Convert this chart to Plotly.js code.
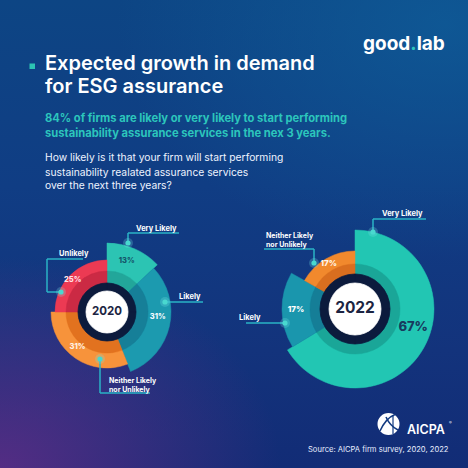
<!DOCTYPE html>
<html>
<head>
<meta charset="utf-8">
<script src="https://cdn.plot.ly/plotly-3.0.1.min.js"></script>
<style>
html,body{margin:0;padding:0;background:#0f3a80;}
#wrap{position:relative;width:468px;height:468px;overflow:hidden;
background:
 radial-gradient(ellipse 60% 45% at 0% 100%, rgba(100,45,135,0.8) 0%, rgba(100,45,135,0) 100%),
 radial-gradient(ellipse 70% 50% at 95% 5%, rgba(15,95,155,0.7) 0%, rgba(15,95,155,0) 100%),
 linear-gradient(180deg,#0d4584 0%,#103d84 40%,#13337c 75%,#122c76 100%);}
#chart{position:absolute;left:0;top:0;width:468px;height:468px;}
</style>
</head>
<body>
<div id="wrap"><div id="chart"></div></div>
<script>
// ---------- data ----------
const categories2020 = ['Very Likely','Likely','Neither Likely nor Unlikely','Unlikely'];
const values2020 = [13, 31, 31, 25];
const categories2022 = ['Very Likely','Likely','Neither Likely nor Unlikely'];
const values2022 = [67, 17, 17];
const yearLabels = ['2020','2022'];

// ---------- styles ----------
const W = 468;
const px = x => x / W;
const py = y => 1 - y / W;
const FONT = 'Inter, "Open Sans", sans-serif';

const style2020 = {
  subplot:'polar', outer:[69,64,56,52], ring:29, core:21, band:12,
  colors:['#2cc4b3','#1c9aaf','#f7933b','#ec3a53'],
  dark:['#22a69a','#167f98','#e2721f','#cb2a44'],
  labelR:[55,51,46,47], labelFrac:[0.45,0.44,0.55,0.48],
  labelColor:['#15566a','#f4fbff','#fff2e4','#ffe2e7'], labelSize:[7.5,7.5,7.5,7.5],
  centerSize:11.5
};
const style2022 = {
  subplot:'polar2', outer:[79,73,58], ring:35, core:26, band:10,
  colors:['#22c6b3','#1a96ad','#f1892d'],
  dark:['#1aa698','#157e97','#d96e1f'],
  labelR:[61,59,52], labelFrac:[0.45,0.5,0.5],
  labelColor:['#173a5e','#ffffff','#fff5ea'], labelSize:[13,8,8],
  centerSize:15.5
};

function buildRose(cats, values, st, year){
  const total = values.reduce((a,b)=>a+b,0);
  const spans = values.map(v => v/total*360);
  const starts = []; let acc = 0;
  spans.forEach(s => { starts.push(acc); acc += s; });
  const mids = starts.map((s,i)=> s + spans[i]/2);
  const labTheta = starts.map((s,i)=> s + spans[i]*st.labelFrac[i]);
  const full = [45,135,225,315];
  return [
    {type:'barpolar', subplot:st.subplot, theta:mids, width:spans, name:year, customdata:cats,
     base:st.ring, r:st.outer.map(o=>o-st.ring),
     marker:{color:st.colors, line:{color:st.colors, width:0.5}}, hoverinfo:'skip'},
    {type:'barpolar', subplot:st.subplot, theta:mids, width:spans,
     base:st.ring, r:spans.map(()=>st.band),
     marker:{color:st.dark, line:{color:st.dark, width:0.5}}, hoverinfo:'skip'},
    {type:'barpolar', subplot:st.subplot, theta:full, width:[90,90,90,90],
     base:0, r:[st.ring,st.ring,st.ring,st.ring],
     marker:{color:'#0c1b3d', line:{color:'#0c1b3d', width:0.8}}, hoverinfo:'skip'},
    {type:'barpolar', subplot:st.subplot, theta:full, width:[90,90,90,90],
     base:0, r:[st.core,st.core,st.core,st.core],
     marker:{color:'#ffffff', line:{color:'#ffffff', width:0.8}}, hoverinfo:'skip'},
    {type:'scatterpolar', subplot:st.subplot, mode:'text', r:st.labelR, theta:labTheta,
     text:values.map(v=>v+'%'),
     textfont:{family:FONT, size:st.labelSize, color:st.labelColor, weight:800},
     hoverinfo:'skip', cliponaxis:false},
    {type:'scatterpolar', subplot:st.subplot, mode:'text', r:[0], theta:[0], text:[year],
     textfont:{family:FONT, size:st.centerSize, color:'#1c2442', weight:700},
     hoverinfo:'skip', cliponaxis:false}
  ];
}

const traces = [
  ...buildRose(categories2020, values2020, style2020, yearLabels[0]),
  ...buildRose(categories2022, values2022, style2022, yearLabels[1])
];

function polarLayout(cx, cy, R){
  return {
    domain:{x:[px(cx-R), px(cx+R)], y:[py(cy+R), py(cy-R)]},
    bgcolor:'rgba(0,0,0,0)', barmode:'overlay', hole:0,
    radialaxis:{visible:false, range:[0,R], showgrid:false},
    angularaxis:{visible:false, rotation:90, direction:'clockwise', showgrid:false}
  };
}

// ---------- decorations ----------
const LINE = '#2ab3c6';
const shapes = [];
function seg(x0,y0,x1,y1){ shapes.push({type:'line',xref:'paper',yref:'paper',
  x0:px(x0),y0:py(y0),x1:px(x1),y1:py(y1),line:{color:LINE,width:1.5}}); }
function dot(cx,cy){
  shapes.push({type:'circle',xref:'paper',yref:'paper',x0:px(cx-5),x1:px(cx+5),y0:py(cy+5),y1:py(cy-5),
    fillcolor:'rgba(120,230,230,0.25)',line:{width:0}});
  shapes.push({type:'circle',xref:'paper',yref:'paper',x0:px(cx-2.6),x1:px(cx+2.6),y0:py(cy+2.6),y1:py(cy-2.6),
    fillcolor:'#49d8cf',line:{width:0}});
}
// title bullet
shapes.push({type:'rect',xref:'paper',yref:'paper',x0:px(29.5),x1:px(35),y0:py(69),y1:py(63.5),
  fillcolor:'#2cc4b3',line:{width:0}});
// 2020 callouts
seg(128,233,179,233); seg(128,233,128,242); dot(128,243);
seg(165,302,203,302); dot(165,302);
seg(47,259,83,259); seg(47,259,47,292); seg(47,292,60,292); dot(61,292);
seg(100,359,100,393); seg(100,393,150,393); dot(100,359);
// 2022 callouts
seg(373,219,426,219); seg(373,219,373,231); dot(373,232);
seg(264,249,314,249); seg(314,249,314,262); dot(314,263);
seg(246,323,285,323); dot(285,323);
// AICPA globe
shapes.push({type:'circle',xref:'paper',yref:'paper',x0:px(377.5),x1:px(399.5),y0:py(435),y1:py(413),
  fillcolor:'#ffffff',line:{width:0}});
shapes.push({type:'path',xref:'paper',yref:'paper',
  path:`M ${px(380)} ${py(431)} Q ${px(386)} ${py(418)} ${px(395)} ${py(414.5)}`,
  line:{color:'#123a80',width:1.6}});
shapes.push({type:'path',xref:'paper',yref:'paper',
  path:`M ${px(386)} ${py(417)} Q ${px(390)} ${py(426)} ${px(398)} ${py(430)}`,
  line:{color:'#123a80',width:1.6}});
shapes.push({type:'path',xref:'paper',yref:'paper',
  path:`M ${px(393)} ${py(415)} L ${px(393)} ${py(434)}`,
  line:{color:'#123a80',width:1.2}});

const ann = [];
function txt(x,y,text,size,color,weight,anchor){
  ann.push({xref:'paper',yref:'paper',x:px(x),y:py(y),text:text,showarrow:false,
    xanchor:anchor||'left',yanchor:'middle',align:anchor||'left',
    font:{family:FONT,size:size,color:color,weight:weight||400}});
}
txt(43,63,'Expected growth in demand',20,'#ffffff',600);
txt(43,86,'for ESG assurance',20,'#ffffff',600);
txt(43,118,'84% of firms are likely or very likely to start performing',11.2,'#2cc6bc',700);
txt(43,133,'sustainability assurance services in the nex 3 years.',11.2,'#2cc6bc',700);
txt(43,157,'How likely is it that your firm will start performing',10.3,'#eef3ff',400);
txt(43,171.5,'sustainability realated assurance services',10.3,'#eef3ff',400);
txt(43,185,'over the next three years?',10.3,'#eef3ff',400);
// logo
ann.push({xref:'paper',yref:'paper',x:px(447),y:py(43),xanchor:'right',yanchor:'middle',showarrow:false,
  text:'good<span style="color:#2cc6bc">.</span>lab',font:{family:FONT,size:19,color:'#ffffff',weight:700}});
// callout labels
txt(179,228,'Very Likely',7.5,'#ffffff',700,'right');
txt(203,296,'Likely',7.5,'#ffffff',700,'right');
txt(57,254,'Unlikely',7.5,'#ffffff',700,'left');
txt(107,384.5,'Neither Likely<br>nor Unlikely',7,'#ffffff',700,'left');
txt(425,214,'Very Likely',7.5,'#ffffff',700,'right');
txt(264,240,'Neither Likely<br>nor Unlikely',7,'#ffffff',700,'left');
txt(263,317,'Likely',7.5,'#ffffff',700,'right');
// AICPA + source
txt(405,429.5,'AICPA',12.5,'#ffffff',600);
txt(447,422,'®',4,'#ffffff',400,'left');
txt(306,449,'Source: AICPA firm survey, 2020, 2022',7.6,'#e8eeff',400);

const layout = {
  width:468, height:468, margin:{l:0,r:0,t:0,b:0},
  paper_bgcolor:'rgba(0,0,0,0)', plot_bgcolor:'rgba(0,0,0,0)',
  showlegend:false,
  polar: polarLayout(107, 312, 70),
  polar2: polarLayout(355, 309, 80),
  shapes: shapes, annotations: ann
};
Plotly.newPlot('chart', traces, layout, {staticPlot:true, displayModeBar:false});
</script>
</body>
</html>
